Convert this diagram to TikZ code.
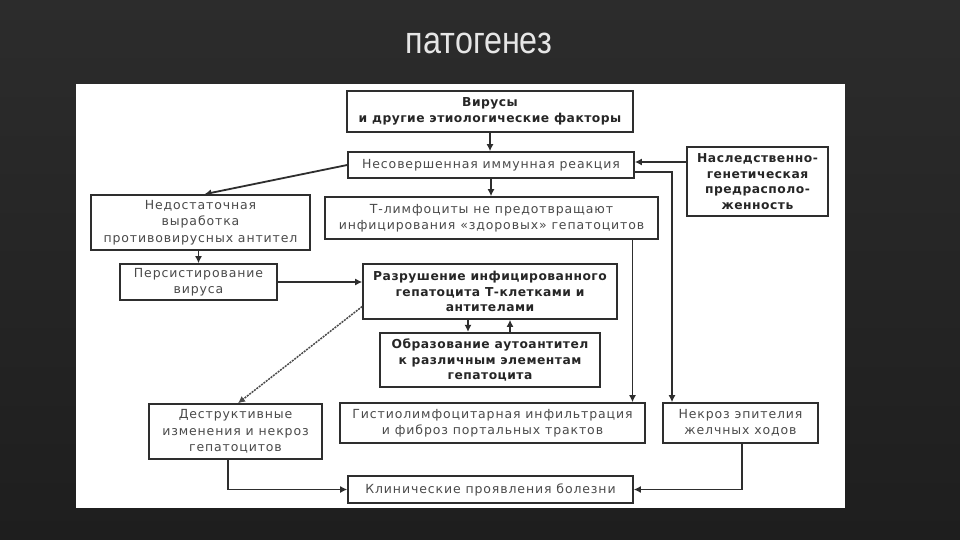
\documentclass[tikz,border=0pt]{standalone}
\usepackage{fontspec}
\usetikzlibrary{arrows.meta,calc}
\newfontfamily\boxfont[LetterSpace=7,BoldFeatures={LetterSpace=4}]{DejaVu Sans}
\newfontfamily\titlefont[FakeStretch=0.85]{Liberation Sans}
\definecolor{bgtop}{HTML}{2C2C2C}
\definecolor{bgbot}{HTML}{1E1E1E}
\definecolor{titlecol}{HTML}{E6E6E6}
\definecolor{linecol}{HTML}{2E2E2E}
\definecolor{normtext}{HTML}{4A4A4A}
\definecolor{boldtext}{HTML}{262626}
\tikzset{
  box/.style={draw=linecol, line width=1.6pt, fill=white, align=center,
    inner sep=1pt, font=\boxfont\fontsize{12.5}{16.5}\selectfont, text=normtext},
  boldbox/.style={box, font=\boxfont\bfseries\fontsize{12.3}{15.5}\selectfont, text=boldtext},
  thickbox/.style={boldbox, line width=2.2pt},
  arr/.style={draw=linecol, line width=1.8pt, -{Latex[length=7pt,width=7pt]}},
  dotarr/.style={arr, draw=black!70, line width=1.5pt, dash pattern=on 2pt off 1pt}
}
\begin{document}
\begin{tikzpicture}[x=1pt,y=-1pt]
\useasboundingbox (0,0) rectangle (960,540);
\shade[top color=bgtop, bottom color=bgbot] (0,0) rectangle (960,540);
\node[anchor=base, text=titlecol, font=\titlefont\fontsize{38}{40}\selectfont] (title) at (479,54) {патогенез};
\fill[white] (76,84) rectangle (845,508);

\node[thickbox, minimum width=286, minimum height=41] (vir) at (490,111.5) {Вирусы\\и другие этиологические факторы};
\node[box, minimum width=286, minimum height=26] (imm) at (491,165) {Несовершенная иммунная реакция};
\node[thickbox, minimum width=141, minimum height=69] (nasl) at (757.5,181.5) {Наследственно-\\генетическая\\предрасполо-\\женность};
\node[box, minimum width=219, minimum height=55] (ned) at (200.5,222.5) {Недостаточная\\выработка\\противовирусных антител};
\node[box, minimum width=333, minimum height=42] (tlim) at (491.5,218) {Т-лимфоциты не предотвращают\\инфицирования «здоровых» гепатоцитов};
\node[box, minimum width=157, minimum height=36] (pers) at (198.5,282) {Персистирование\\вируса};
\node[boldbox, minimum width=254, minimum height=55] (razr) at (490,291.5) {Разрушение инфицированного\\гепатоцита Т-клетками и\\антителами};
\node[thickbox, minimum width=220, minimum height=54] (obr) at (490,360) {Образование аутоантител\\к различным элементам\\гепатоцита};
\node[box, minimum width=173, minimum height=55] (destr) at (235.5,431.5) {Деструктивные\\изменения и некроз\\гепатоцитов};
\node[box, minimum width=305, minimum height=40] (gist) at (492.5,423) {Гистиолимфоцитарная инфильтрация\\и фиброз портальных трактов};
\node[box, minimum width=155, minimum height=40] (nekr) at (740.5,423) {Некроз эпителия\\желчных ходов};
\node[box, minimum width=285, minimum height=27] (klin) at (490.5,489.5) {Клинические проявления болезни};

\draw[arr] (vir.south) -- (vir.south |- imm.north);
\draw[arr] (imm.south) -- (imm.south |- tlim.north);
\draw[arr] (imm.west) -- ([xshift=4pt]ned.north);
\draw[arr] ([yshift=3pt]imm.east -| nasl.west) -- ([yshift=3pt]imm.east);
\draw[arr] ([yshift=-7pt]imm.east) -| ([xshift=-68.5pt]nekr.north);
\draw[arr] ([xshift=141pt]tlim.south) -- ([xshift=141pt]tlim.south |- gist.north);
\draw[arr] (pers.north |- ned.south) -- (pers.north);
\draw[arr] (pers.east) -- (pers.east -| razr.west);
\draw[dotarr] ([yshift=-15pt]razr.west) -- ([xshift=2.5pt]destr.north);
\draw[arr] ([xshift=-22pt]razr.south) -- ([xshift=-22pt]razr.south |- obr.north);
\draw[arr] ([xshift=20pt]obr.north) -- ([xshift=20pt]obr.north |- razr.south);
\draw[arr] ([xshift=-7.5pt]destr.south) |- (klin.west);
\draw[arr] ([xshift=1.5pt]nekr.south) |- (klin.east);
\end{tikzpicture}
\end{document}
